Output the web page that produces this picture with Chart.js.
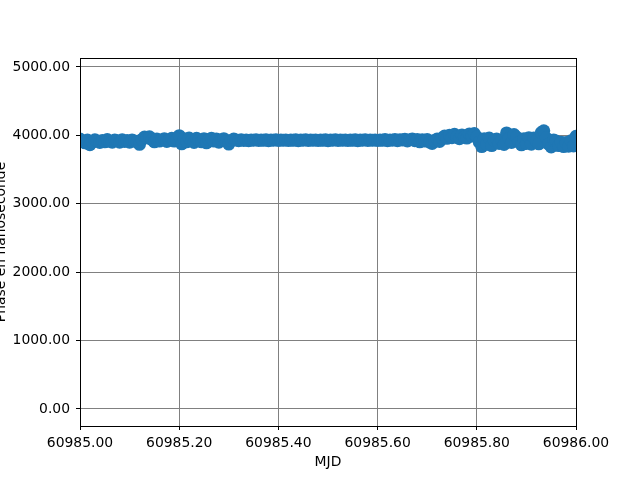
<!DOCTYPE html>
<html>
<head>
<meta charset="utf-8">
<script src="https://cdn.jsdelivr.net/npm/chart.js@4"></script>
<style>
    body { margin: 0; background: #fff; }
    canvas { display: block; }
</style>
</head>
<body>
<canvas id="phaseChart" width="640" height="480"></canvas>
<script>
// MJD sampled every 0.005 day
const mjdStart = 60985.00;
const mjdStep = 0.005;
// phase in ns
const phaseValues = [
    3945, 3910, 3890, 3930, 3862, 3900, 3935, 3915, 3895, 3925,
    3905, 3938, 3912, 3900, 3930, 3920, 3898, 3935, 3910, 3925,
    3900, 3930, 3915, 3905, 3868, 3940, 3975, 3965, 3978, 3935,
    3905, 3945, 3915, 3930, 3950, 3910, 3925, 3955, 3915, 3940,
    3995, 3875, 3950, 3905, 3960, 3920, 3895, 3955, 3930, 3905,
    3950, 3890, 3940, 3955, 3915, 3945, 3900, 3935, 3950, 3910,
    3872, 3925, 3945, 3930, 3920, 3935, 3925, 3932, 3922, 3930,
    3928, 3935, 3924, 3930, 3926, 3934, 3922, 3930, 3928, 3935,
    3925, 3930, 3928, 3932, 3924, 3930, 3926, 3934, 3922, 3930,
    3928, 3935, 3925, 3930, 3928, 3932, 3924, 3930, 3926, 3934,
    3922, 3930, 3928, 3935, 3925, 3930, 3928, 3932, 3924, 3930,
    3926, 3934, 3922, 3930, 3928, 3935, 3925, 3930, 3928, 3932,
    3924, 3930, 3926, 3938, 3920, 3932, 3928, 3940, 3922, 3935,
    3930, 3942, 3918, 3935, 3945, 3920, 3940, 3905, 3935, 3915,
    3940, 3900, 3880, 3925, 3945, 3910, 3960, 3990, 3955, 4000,
    3965, 4015, 3980, 3950, 4005, 3975, 3960, 4020, 3990, 4025,
    3975, 3900, 3835, 3950, 3870, 3960, 3850, 3925, 3945, 3880,
    3930, 3865, 4035, 3960, 3895, 4010, 3975, 3900, 3860, 3950,
    3880, 3965, 3870, 3960, 3920, 3875, 4040, 4065, 3960, 3870,
    3830, 3930, 3915, 3850, 3900, 3835, 3895, 3840, 3920, 3845,
    3985
];
const xTicks = [60985.0, 60985.2, 60985.4, 60985.6, 60985.8, 60986.0];
const yTicks = [0, 1000, 2000, 3000, 4000, 5000];

const points = phaseValues.map((v, i) => ({ x: mjdStart + i * mjdStep, y: v }));

const fontSpec = { family: 'DejaVu Sans', size: 13.9 };

// cadre noir autour de la zone du graphe + titre Y coupé à gauche
const framePlugin = {
    id: 'frame',
    afterDraw(chart) {
        const { ctx, chartArea } = chart;
        ctx.save();
        ctx.strokeStyle = '#000';
        ctx.lineWidth = 1;
        ctx.strokeRect(Math.round(chartArea.left) + 0.5, Math.round(chartArea.top) + 0.5,
            Math.round(chartArea.right - chartArea.left), Math.round(chartArea.bottom - chartArea.top));
        ctx.translate(5, (chartArea.top + chartArea.bottom) / 2);
        ctx.rotate(-Math.PI / 2);
        ctx.font = '13.9px "DejaVu Sans"';
        ctx.fillStyle = '#000';
        ctx.textAlign = 'center';
        ctx.textBaseline = 'alphabetic';
        ctx.fillText('Phase en nanoseconde', 0, 0);
        ctx.restore();
    }
};

new Chart(document.getElementById('phaseChart').getContext('2d'), {
    type: 'scatter',
    data: {
        datasets: [{
            data: points,
            backgroundColor: '#1f77b4',
            borderWidth: 0,
            pointRadius: 6.5,
            pointHoverRadius: 6.5
        }]
    },
    options: {
        responsive: false,
        animation: false,
        layout: { padding: { top: 58, right: 64, left: 0, bottom: 0 } },
        plugins: {
            legend: { display: false },
            tooltip: { enabled: false }
        },
        scales: {
            x: {
                type: 'linear',
                min: 60985.0,
                max: 60986.0,
                z: 1,
                afterBuildTicks: scale => { scale.ticks = xTicks.map(v => ({ value: v })); },
                afterFit: scale => { scale.height = 54; },
                grid: { color: '#808080', tickColor: '#000', tickLength: 4, lineWidth: 1 },
                border: { display: true, color: '#000' },
                ticks: {
                    color: '#000',
                    font: fontSpec,
                    padding: 5,
                    maxRotation: 0,
                    autoSkip: false,
                    callback: v => v.toFixed(2)
                },
                title: {
                    display: true,
                    text: 'MJD',
                    color: '#000',
                    font: fontSpec,
                    padding: { top: 0, bottom: 9 }
                }
            },
            y: {
                min: -250,
                max: 5130,
                z: 1,
                afterBuildTicks: scale => { scale.ticks = yTicks.map(v => ({ value: v })); },
                afterFit: scale => { scale.width = 80; },
                grid: { color: '#808080', tickColor: '#000', tickLength: 4, lineWidth: 1 },
                border: { display: true, color: '#000' },
                ticks: {
                    color: '#000',
                    font: fontSpec,
                    padding: 6,
                    autoSkip: false,
                    callback: v => v.toFixed(2)
                }
            }
        }
    },
    plugins: [framePlugin]
});
</script>
</body>
</html>
